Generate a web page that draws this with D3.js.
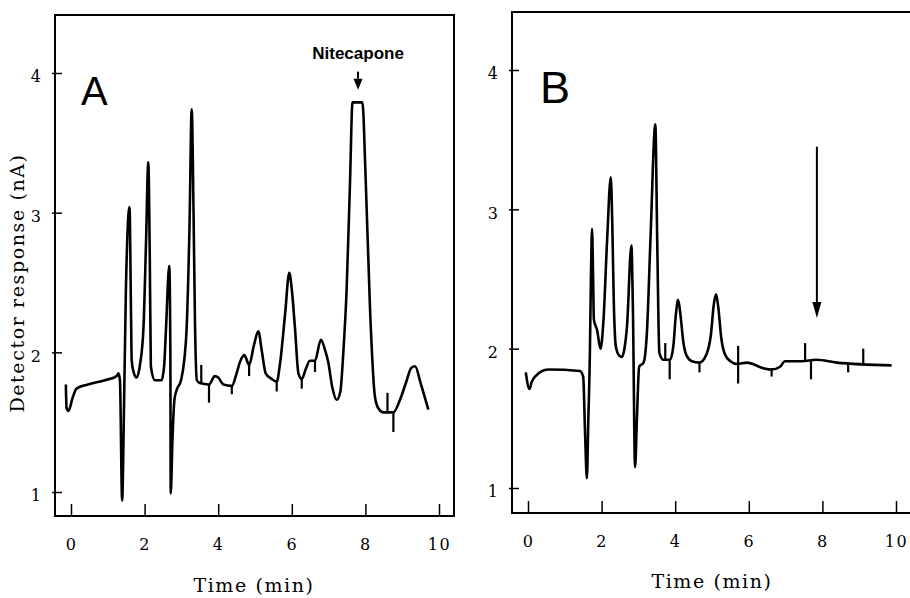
<!DOCTYPE html>
<html>
<head>
<meta charset="utf-8">
<script src="https://cdn.jsdelivr.net/npm/d3@7"></script>
<style>
  body { margin: 0; background: #fff; }
  svg { display: block; }
</style>
</head>
<body>
<svg id="fig" width="910" height="598"></svg>
<script>
// ---- data ----
const xTicks = [0, 2, 4, 6, 8, 10];
const yTicks = [1, 2, 3, 4];

// panel A (sample with nitecapone)
const timeA = [-0.14, -0.12, -0.07, 0.05, 0.15, 0.46, 0.92, 1.24, 1.29, 1.33, 1.39, 1.44, 1.49, 1.59, 1.63, 1.65, 1.70, 1.78,
  1.88, 1.97, 2.04, 2.10, 2.14, 2.17, 2.28, 2.46, 2.53, 2.58, 2.67, 2.70, 2.71, 2.76, 2.81, 2.87, 2.99, 3.08, 3.14,
  3.22, 3.28, 3.33, 3.37, 3.42, 3.50, 3.75, 3.91, 4.00, 4.14, 4.37, 4.50, 4.59, 4.71, 4.84, 4.97, 5.09, 5.19, 5.29,
  5.45, 5.59, 5.68, 5.82, 5.93, 6.00, 6.09, 6.18, 6.27, 6.38, 6.49, 6.63, 6.79, 6.90, 6.99, 7.10, 7.22, 7.32, 7.40,
  7.49, 7.58, 7.65, 7.92, 8.00, 8.13, 8.26, 8.35, 8.49, 8.76, 8.94, 9.10, 9.25, 9.35, 9.50, 9.71];
const respA = [1.77, 1.60, 1.58, 1.68, 1.74, 1.77, 1.80, 1.83, 1.85, 1.80, 0.94, 1.60, 2.42, 3.04, 2.30, 1.94, 1.86, 1.82,
  1.92, 2.18, 2.80, 3.36, 2.70, 1.90, 1.80, 1.80, 1.90, 2.16, 2.62, 2.00, 0.99, 1.40, 1.66, 1.73, 1.80, 1.95, 2.16,
  2.90, 3.74, 3.00, 2.20, 1.80, 1.78, 1.77, 1.83, 1.82, 1.77, 1.76, 1.85, 1.93, 1.98, 1.91, 2.05, 2.15, 2.00, 1.85,
  1.81, 1.79, 1.92, 2.28, 2.57, 2.45, 2.16, 1.85, 1.81, 1.88, 1.94, 1.94, 2.09, 2.02, 1.93, 1.75, 1.66, 1.72, 2.00,
  2.45, 3.20, 3.79, 3.79, 3.30, 2.28, 1.68, 1.60, 1.57, 1.57, 1.66, 1.78, 1.89, 1.90, 1.78, 1.59];
// event marks on trace A: time, from, to
const marksA = [[3.54, 1.78, 1.91], [3.75, 1.77, 1.64], [4.37, 1.76, 1.70], [4.84, 1.91, 1.83], [5.59, 1.79, 1.72],
  [6.27, 1.81, 1.74], [6.63, 1.94, 1.86], [8.60, 1.57, 1.71], [8.76, 1.57, 1.43]];

// panel B (blank)
const timeB = [-0.06, 0.04, 0.10, 0.19, 0.55, 1.41, 1.50, 1.55, 1.60, 1.64, 1.68, 1.71, 1.74, 1.77, 1.79, 1.88, 1.97,
  2.05, 2.15, 2.25, 2.29, 2.33, 2.39, 2.48, 2.55, 2.62, 2.69, 2.81, 2.85, 2.91, 2.96, 3.02, 3.14, 3.23, 3.33, 3.46,
  3.51, 3.57, 3.68, 3.86, 3.95, 4.02, 4.08, 4.14, 4.22, 4.31, 4.45, 4.66, 4.85, 4.97, 5.05, 5.11, 5.17, 5.25, 5.35,
  5.50, 5.69, 5.95, 6.39, 6.62, 6.85, 6.98, 7.44, 7.84, 8.39, 9.88];
const respB = [1.83, 1.71, 1.76, 1.80, 1.85, 1.84, 1.80, 1.40, 1.07, 1.50, 1.94, 2.50, 2.86, 2.50, 2.21, 2.13, 2.00,
  2.20, 2.78, 3.23, 2.90, 2.35, 2.01, 1.95, 1.94, 2.00, 2.16, 2.74, 2.30, 1.15, 1.50, 1.87, 1.90, 2.11, 2.80, 3.61,
  2.80, 1.97, 1.92, 1.92, 2.02, 2.25, 2.35, 2.25, 2.05, 1.95, 1.91, 1.90, 1.96, 2.10, 2.32, 2.39, 2.30, 2.08, 1.96,
  1.91, 1.89, 1.90, 1.86, 1.85, 1.87, 1.91, 1.91, 1.92, 1.90, 1.88];
const marksB = [[3.73, 1.92, 2.04], [3.85, 1.92, 1.78], [4.66, 1.90, 1.83], [5.71, 2.02, 1.75], [6.62, 1.86, 1.80],
  [7.53, 1.91, 2.04], [7.69, 1.91, 1.78], [8.70, 1.89, 1.83], [9.11, 1.89, 2.00]];

// arrows: time, from, to
const arrowA = [7.8, 4.01, 3.88];
const arrowB = [7.85, 3.45, 2.22];

const svg = d3.select('#fig');
const serif = "'DejaVu Serif', 'Liberation Serif', serif";
const sans = "'Liberation Sans', Arial, sans-serif";

const drawPanel = (p) => {
    const x = d3.scaleLinear().domain([0, 10]).range(p.xr);
    const y = d3.scaleLinear().domain([1, 4]).range(p.yr);
    const g = svg.append('g');

    // frame
    g.append('path')
        .attr('d', p.box ? `M${p.left},${p.top}H${p.right}V${p.bottom}H${p.left}Z`
                         : `M${p.right},${p.top}H${p.left}V${p.bottom}H${p.right}`)
        .attr('fill', 'none').attr('stroke', '#000').attr('stroke-width', 2);

    // y ticks
    const yAxis = g.append('g').attr('transform', `translate(${p.left},0)`)
        .call(d3.axisLeft(y).tickValues(yTicks).tickSizeInner(-7).tickSizeOuter(0).tickPadding(14).tickFormat(d3.format('d')));
    yAxis.select('.domain').remove();
    yAxis.selectAll('line').attr('x1', -3).attr('x2', 7).attr('stroke-width', 1.5);
    yAxis.selectAll('text').attr('font-family', serif).attr('font-size', 16).attr('dy', '0.55em');

    // x ticks (inside, pointing up)
    const xAxis = g.append('g').attr('transform', `translate(0,${p.bottom})`)
        .call(d3.axisBottom(x).tickValues(xTicks).tickSizeInner(-12).tickSizeOuter(0).tickPadding(23).tickFormat(d3.format('d')));
    xAxis.select('.domain').remove();
    xAxis.selectAll('line').attr('stroke-width', 1.5);
    xAxis.selectAll('text').attr('font-family', serif).attr('font-size', 16).attr('letter-spacing', 1.5);

    // trace
    const line = d3.line().x(d => x(d[0])).y(d => y(d[1])).curve(d3.curveMonotoneX);
    g.append('path')
        .datum(p.time.map((t, i) => [t, p.resp[i]]))
        .attr('d', line)
        .attr('fill', 'none').attr('stroke', '#000').attr('stroke-width', 2.6)
        .attr('stroke-linejoin', 'round');

    g.selectAll('.mark').data(p.marks).join('line')
        .attr('class', 'mark')
        .attr('x1', d => x(d[0])).attr('x2', d => x(d[0]))
        .attr('y1', d => y(d[1])).attr('y2', d => y(d[2]))
        .attr('stroke', '#000').attr('stroke-width', 2.2);

    // arrow
    const a = p.arrow;
    const ax = x(a[0]), y0 = y(a[1]), y1 = y(a[2]);
    g.append('line').attr('x1', ax).attr('x2', ax).attr('y1', y0).attr('y2', y1 - p.head)
        .attr('stroke', '#000').attr('stroke-width', 2);
    g.append('path')
        .attr('d', `M${ax - 4.5},${y1 - p.head}L${ax + 4.5},${y1 - p.head}L${ax},${y1}Z`)
        .attr('fill', '#000');

    // letter
    g.append('text').attr('x', p.letterX).attr('y', p.letterY)
        .attr('font-family', sans).attr('font-size', p.letterSize)
        .text(p.letter);

    // x title
    g.append('text').attr('x', p.titleX).attr('y', p.titleY)
        .attr('text-anchor', 'middle').attr('font-family', serif).attr('font-size', 19)
        .attr('letter-spacing', 1.6)
        .text('Time (min)');
    return { x, y, g };
};

const pa = drawPanel({
    xr: [71, 439], yr: [492, 73], left: 55, right: 454, top: 15, bottom: 516, box: true,
    time: timeA, resp: respA, marks: marksA, arrow: arrowA, head: 11,
    letter: 'A', letterX: 81, letterY: 105, letterSize: 40, titleX: 254, titleY: 592
});
const pb = drawPanel({
    xr: [528, 896], yr: [488, 70], left: 512, right: 915, top: 12, bottom: 513, box: false,
    time: timeB, resp: respB, marks: marksB, arrow: arrowB, head: 16,
    letter: 'B', letterX: 540, letterY: 103, letterSize: 45, titleX: 712, titleY: 588
});

// label over the nitecapone peak
pa.g.append('text')
    .attr('x', pa.x(arrowA[0])).attr('y', 59)
    .attr('text-anchor', 'middle').attr('font-family', sans).attr('font-weight', 'bold').attr('font-size', 17)
    .text('Nitecapone');

// y title
svg.append('text')
    .attr('transform', 'translate(24,283) rotate(-90)')
    .attr('text-anchor', 'middle').attr('font-family', serif).attr('font-size', 19)
    .attr('letter-spacing', 1.6)
    .text('Detector response (nA)');
</script>
</body>
</html>
